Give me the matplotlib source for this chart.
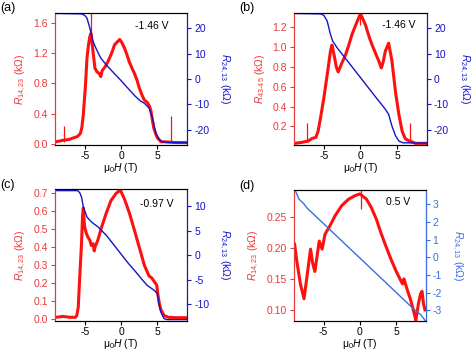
import numpy as np
import matplotlib.pyplot as plt

plt.rcParams['font.family'] = ['Liberation Sans', 'DejaVu Sans']
plt.rcParams['mathtext.fontset'] = 'custom'
plt.rcParams['mathtext.rm'] = 'Liberation Sans'
plt.rcParams['mathtext.it'] = 'Liberation Sans:italic'
plt.rcParams['axes.unicode_minus'] = False
plt.rcParams['font.size'] = 7.5

RED = '#ff1010'
RED_TXT = '#e83a3a'
BLUE = '#1414c8'
BLUE_D = '#3a6ee0'

# ---- panel (a) ----
Ha_red = [-9.0, -8.5, -8.0, -7.2, -6.6, -6.0, -5.6, -5.4, -5.2, -4.9, -4.7, -4.5, -4.3,
          -4.15, -4.05, -3.9, -3.6, -3.3, -3.0, -2.8, -2.6, -2.2, -1.8, -1.3, -0.9, -0.5, -0.2,
          0.1, 0.45, 0.8, 1.1, 1.5, 1.8, 2.2, 2.5, 2.9, 3.2, 3.6, 3.9, 4.1, 4.3, 4.5, 4.75, 5.0, 5.5,
          6.0, 7.5, 8.2, 9.0]
Ra_red = [0.03, 0.04, 0.05, 0.06, 0.08, 0.10, 0.14, 0.22, 0.39, 0.78, 1.13, 1.30, 1.42,
          1.46, 1.40, 1.25, 1.00, 0.95, 0.93, 0.89, 0.97, 1.02, 1.09, 1.20, 1.31, 1.35, 1.38,
          1.34, 1.27, 1.18, 1.09, 1.00, 0.94, 0.84, 0.74, 0.64, 0.58, 0.55, 0.50, 0.44, 0.32, 0.21,
          0.14, 0.08, 0.03, 0.03, 0.02, 0.02, 0.02]
Ha_spk = [-7.9, -4.1, 6.8]
Ra_spk_lo = [0.03, 1.38, 0.03]
Ra_spk_hi = [0.24, 1.75, 0.37]
Ha_blue = [-9.0, -5.4, -5.0, -4.7, -4.3, -3.9, -3.5, -2.8, -2.0, -1.0, 0.0, 1.0, 2.0, 2.7, 3.2,
           3.85, 4.3, 4.8, 5.45, 6.0, 9.0]
Ra_blue = [25.8, 25.6, 25.0, 24.0, 20.0, 15.0, 12.3, 8.2, 5.4, 2.3, -0.7, -3.9, -7.0, -8.8, -9.6,
           -11.5, -15.3, -21.8, -24.5, -25.0, -25.2]

# ---- panel (b) ----
Hb_red = [-9.0, -8.0, -7.4, -7.2, -6.6, -6.1, -5.8, -5.45, -5.0, -4.55, -4.1, -3.9, -3.6,
          -3.3, -3.05, -2.6, -2.05, -1.6, -1.15, -0.45, -0.1, 0.0, 0.1, 0.7, 1.2, 1.6, 2.1, 2.5,
          2.85, 3.1, 3.4, 3.85, 4.3, 4.8, 5.25, 5.7, 6.1, 6.7, 6.9, 7.5, 9.0]
Rb_red = [0.03, 0.04, 0.05, 0.05, 0.08, 0.09, 0.15, 0.29, 0.49, 0.72, 0.96, 1.02, 0.92,
          0.80, 0.75, 0.83, 0.92, 1.02, 1.13, 1.26, 1.32, 1.34, 1.32, 1.22, 1.10, 1.02, 0.93, 0.86,
          0.79, 0.85, 0.96, 1.04, 0.86, 0.54, 0.32, 0.15, 0.08, 0.05, 0.05, 0.03, 0.03]
Hb_spk = [-7.3, 0.0, 6.8]
Rb_spk_lo = [0.05, 1.22, 0.05]
Rb_spk_hi = [0.24, 1.36, 0.24]
Hb_blue = [-9.0, -5.4, -5.0, -4.55, -4.1, -3.8, -3.2, -2.0, -1.0, 0.0, 1.0, 2.0, 3.0, 3.4, 3.85,
           4.3, 4.8, 5.25, 5.8, 9.0]
Rb_blue = [25.8, 25.6, 25.0, 22.8, 17.5, 14.9, 12.3, 7.9, 4.2, 0.5, -3.2, -6.9, -10.5, -12.0,
           -14.0, -18.6, -22.5, -24.5, -25.2, -25.3]

# ---- panel (c) ----
Hc_red = [-9.0, -8.0, -7.0, -6.3, -6.1, -5.9, -5.7, -5.45, -5.3, -5.2, -5.1, -5.0, -4.8, -4.55,
          -4.3, -4.1, -3.85, -3.7, -3.6, -3.2, -2.7, -2.05, -1.4, -0.7, -0.1, 0.0, 0.45, 1.15, 1.8,
          2.5, 3.2, 3.85, 4.2, 4.55, 4.9, 5.05, 5.25, 5.45, 5.9, 6.5, 7.5, 9.0]
Rc_red = [0.01, 0.015, 0.01, 0.01, 0.02, 0.065, 0.23, 0.42, 0.58, 0.62, 0.55, 0.51, 0.48, 0.455,
          0.44, 0.41, 0.42, 0.38, 0.40, 0.44, 0.51, 0.59, 0.66, 0.70, 0.72, 0.71, 0.67, 0.59, 0.50,
          0.40, 0.30, 0.24, 0.23, 0.21, 0.19, 0.14, 0.09, 0.056, 0.02, 0.01, 0.008, 0.008]
Hc_spk = []
Rc_spk_lo = []
Rc_spk_hi = []
Hc_blue = [-9.0, -6.0, -5.7, -5.45, -5.2, -4.7, -4.1, -3.2, -2.0, -1.0, 0.0, 1.0, 2.0, 3.0, 3.6,
           4.55, 5.0, 5.2, 5.45, 5.9, 6.3, 9.0]
Rc_blue = [13.2, 13.2, 12.8, 11.9, 9.9, 7.8, 6.8, 5.8, 4.0, 2.1, 0.2, -1.7, -3.4, -5.2, -6.2,
           -7.2, -7.9, -9.9, -11.6, -13.0, -13.2, -13.2]

# ---- panel (d) ----
Hd_red = [-9.0, -8.7, -8.2, -7.7, -7.3, -6.8, -6.5, -6.2, -5.6, -5.2, -4.8, -4.1, -3.4, -2.5,
          -1.6, -0.7, 0.0, 0.9, 1.6, 2.3, 2.9, 3.6, 4.3, 5.0, 5.5, 5.9, 6.1, 6.6,
          7.0, 7.4, 7.75, 8.1, 8.4, 8.6, 8.8, 9.0]
Rd_red = [0.206, 0.179, 0.142, 0.118, 0.153, 0.198, 0.175, 0.162, 0.211, 0.198, 0.222, 0.236,
          0.252, 0.268, 0.278, 0.284, 0.287, 0.279, 0.265, 0.246, 0.225, 0.203,
          0.182, 0.163, 0.151, 0.142, 0.150, 0.131, 0.117, 0.100, 0.083, 0.110, 0.126, 0.130,
          0.110, 0.100]
Hd_spk = [0.15]
Rd_spk_lo = [0.262]
Rd_spk_hi = [0.294]
Hd_blue = [-9.0, -8.4, -7.7, -7.3, -4.0, 0.0, 4.0, 7.5, 8.4, 9.1]
Rd_blue = [3.87, 3.3, 3.02, 2.8, 1.52, -0.03, -1.58, -2.94, -3.23, -3.6]

panels = [
    dict(tag='(a)', pos=[0.116, 0.585, 0.279, 0.378], H=Ha_red, R=Ra_red, Hb=Ha_blue, Rb=Ra_blue,
         sH=Ha_spk, sl=Ra_spk_lo, sh=Ra_spk_hi,
         ylim=(-0.01, 1.73), yt=[0.0, 0.4, 0.8, 1.2, 1.6], ylim2=(-26, 26), yt2=[-20, -10, 0, 10, 20],
         lab=r'$R_{\mathrm{14,23}}$ (k$\Omega$)', volt='-1.46 V', vxy=(0.73, 0.90), bc=BLUE),
    dict(tag='(b)', pos=[0.620, 0.585, 0.281, 0.378], H=Hb_red, R=Rb_red, Hb=Hb_blue, Rb=Rb_blue,
         sH=Hb_spk, sl=Rb_spk_lo, sh=Rb_spk_hi,
         ylim=(0.015, 1.345), yt=[0.2, 0.4, 0.6, 0.8, 1.0, 1.2], ylim2=(-26, 26), yt2=[-20, -10, 0, 10, 20],
         lab=r'$R_{\mathrm{43\text{-}45}}$ (k$\Omega$)', volt='-1.46 V', vxy=(0.786, 0.91), bc=BLUE),
    dict(tag='(c)', pos=[0.116, 0.080, 0.279, 0.378], H=Hc_red, R=Rc_red, Hb=Hc_blue, Rb=Rc_blue,
         sH=Hc_spk, sl=Rc_spk_lo, sh=Rc_spk_hi,
         ylim=(-0.011, 0.724), yt=[0.0, 0.1, 0.2, 0.3, 0.4, 0.5, 0.6, 0.7], ylim2=(-13.5, 13.5), yt2=[-10, -5, 0, 5, 10],
         lab=r'$R_{\mathrm{14,23}}$ (k$\Omega$)', volt='-0.97 V', vxy=(0.77, 0.886), bc=BLUE),
    dict(tag='(d)', pos=[0.620, 0.080, 0.278, 0.375], H=Hd_red, R=Rd_red, Hb=Hd_blue, Rb=Rd_blue,
         sH=Hd_spk, sl=Rd_spk_lo, sh=Rd_spk_hi,
         ylim=(0.082, 0.293), yt=[0.10, 0.15, 0.20, 0.25], ylim2=(-3.6, 3.8), yt2=[-3, -2, -1, 0, 1, 2, 3],
         lab=r'$R_{\mathrm{14,23}}$ (k$\Omega$)', volt='0.5 V', vxy=(0.79, 0.91), bc=BLUE_D),
]

fig = plt.figure(figsize=(4.74, 3.49), dpi=100)

for p in panels:
    ax = fig.add_axes(p['pos'])
    ax.plot(p['H'], p['R'], color=RED, lw=2.2)
    if p['sH']:
        ax.vlines(p['sH'], p['sl'], p['sh'], color=RED, lw=0.9)
    ax.set_xlim(-9.1, 9.1)
    ax.set_ylim(*p['ylim'])
    ax.set_yticks(p['yt'])
    ax.set_xticks([-5, 0, 5])
    ax.tick_params(axis='y', colors=RED_TXT, length=3, width=0.8, pad=2)
    ax.tick_params(axis='x', length=3, width=0.8, pad=1.5)
    ax.spines['left'].set_color(RED_TXT)
    ax.set_ylabel(p['lab'], color=RED_TXT, labelpad=4)
    ax.set_xlabel(r'$\mathrm{\mu}_0H$ (T)', labelpad=0)
    ax.text(p['vxy'][0], p['vxy'][1], p['volt'], transform=ax.transAxes,
            ha='center', va='center', fontsize=7.5)

    ax2 = ax.twinx()
    ax2.plot(p['Hb'], p['Rb'], color=p['bc'], lw=1.0)
    ax2.set_ylim(*p['ylim2'])
    ax2.set_yticks(p['yt2'])
    ax2.tick_params(axis='y', colors=p['bc'], length=3, width=0.8, pad=2)
    ax2.spines['right'].set_color(p['bc'])
    ax2.spines['left'].set_color(RED_TXT)
    ax2.set_ylabel(r'$R_{\mathrm{24,13}}$ (k$\Omega$)', color=p['bc'], rotation=270, labelpad=16)

    fig.text(p['pos'][0] - 0.116, p['pos'][1] + p['pos'][3] + 0.03, p['tag'],
             ha='left', va='top', fontsize=9)

fig.savefig('out.png', dpi=100)
